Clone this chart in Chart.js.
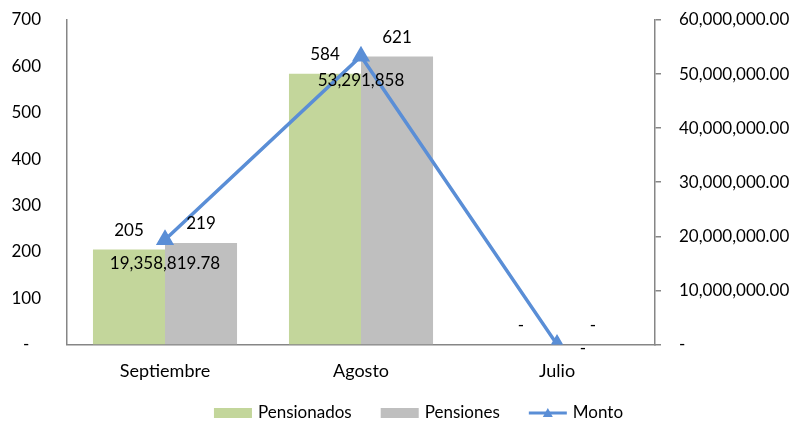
<!DOCTYPE html>
<html>
<head>
<meta charset="utf-8">
<script src="https://cdn.jsdelivr.net/npm/chart.js@4.4.1/dist/chart.umd.min.js"></script>
<style>
  html, body { margin: 0; padding: 0; background: #fff; }
  #wrap { width: 801px; height: 423px; }
</style>
</head>
<body>
<div id="wrap"><canvas id="chart" width="801" height="423"></canvas></div>
<script>
// datos del gráfico
const meses = ['Septiembre', 'Agosto', 'Julio'];
const pensionados = [205, 584, 0];
const pensiones = [219, 621, 0];
const monto = [19358819.78, 53291858, 0];
const montoEtiquetas = ['19,358,819.78', '53,291,858', '-'];

const gris = '#868686';
const azul = '#5A8ED6';
const verde = '#C3D69B';
const grisBarra = '#BFBFBF';
const fuente = 'Lato';

const fmtNum = v => v === 0 ? '-' : v.toLocaleString('en-US');

// etiquetas de datos
const etiquetas = {
    id: 'etiquetas',
    afterDatasetsDraw(chart) {
        const ctx = chart.ctx;
        ctx.save();
        ctx.font = '17px ' + fuente;
        ctx.fillStyle = '#000';
        ctx.textAlign = 'center';
        ctx.textBaseline = 'middle';
        chart.data.datasets.forEach((ds, i) => {
            const meta = chart.getDatasetMeta(i);
            meta.data.forEach((el, j) => {
                if (ds.type === 'line') {
                    ctx.fillText(montoEtiquetas[j], el.x + (j === 2 ? 26 : 0), el.y + (j === 2 ? 4 : 24));
                } else {
                    ctx.fillText(fmtNum(ds.data[j]), el.x, el.y - 19);
                }
            });
        });
        ctx.restore();
    }
};

// leyenda dibujada a mano (para controlar separaciones)
const leyenda = {
    id: 'leyenda',
    afterDraw(chart) {
        const ctx = chart.ctx;
        const y = chart.height - 10;
        ctx.save();
        ctx.font = '17px ' + fuente;
        ctx.textBaseline = 'middle';
        ctx.textAlign = 'left';
        const ds = chart.data.datasets;
        const anchos = ds.map(d => 38 + 6 + ctx.measureText(d.label).width);
        const total = anchos.reduce((a, b) => a + b, 0) + 29 * (ds.length - 1);
        let x = chart.width / 2 + 18 - total / 2;
        ds.forEach((d, i) => {
            if (d.type === 'line') {
                ctx.strokeStyle = d.borderColor; ctx.lineWidth = 3;
                ctx.beginPath(); ctx.moveTo(x, y); ctx.lineTo(x + 38, y); ctx.stroke();
                ctx.fillStyle = d.borderColor;
                ctx.beginPath(); ctx.moveTo(x + 19, y - 5); ctx.lineTo(x + 24, y + 4); ctx.lineTo(x + 14, y + 4); ctx.closePath(); ctx.fill();
            } else {
                ctx.fillStyle = d.backgroundColor;
                ctx.fillRect(x, y - 5, 38, 10);
            }
            ctx.fillStyle = '#000';
            ctx.fillText(d.label, x + 44, y);
            x += anchos[i] + 29;
        });
        ctx.restore();
    }
};

// ancho fijo del eje y sin relleno extra arriba/abajo
const fijarEje = ancho => s => { s.width = ancho; s.paddingTop = 0; s.paddingBottom = 0; };

new Chart(document.getElementById('chart'), {
    type: 'bar',
    data: {
        labels: meses,
        datasets: [
            { label: 'Pensionados', data: pensionados, backgroundColor: verde, yAxisID: 'y', order: 1 },
            { label: 'Pensiones', data: pensiones, backgroundColor: grisBarra, yAxisID: 'y', order: 1 },
            {
                type: 'line', label: 'Monto', data: monto, yAxisID: 'y1', order: 0,
                borderColor: azul, backgroundColor: azul, borderWidth: 3.5,
                pointStyle: 'triangle', pointRadius: 7, pointBackgroundColor: azul, pointBorderColor: azul,
                tension: 0
            }
        ]
    },
    options: {
        responsive: false,
        animation: false,
        layout: { autoPadding: false, padding: { top: 20, left: 8, right: 10, bottom: 25 } },
        datasets: { bar: { categoryPercentage: 0.735, barPercentage: 1 } },
        plugins: {
            tooltip: { enabled: false },
            legend: { display: false }
        },
        scales: {
            x: {
                grid: { display: false, tickLength: 0 },
                border: { display: true, color: gris, width: 1.5 },
                ticks: { font: { family: fuente, size: 18 }, color: '#000', padding: 16 }
            },
            y: {
                position: 'left',
                min: 0, max: 700,
                ticks: { stepSize: 100, font: { family: fuente, size: 17 }, color: '#000', padding: 18, crossAlign: 'center', callback: v => v === 0 ? '-' : v },
                grid: { display: false },
                border: { display: true, color: gris, width: 1.5 },
                afterFit: fijarEje(59)
            },
            y1: {
                position: 'right',
                min: 0, max: 60000000,
                ticks: {
                    stepSize: 10000000, font: { family: fuente, size: 17 }, color: '#000', padding: 18,
                    callback: v => v === 0 ? '-' : v.toLocaleString('en-US', { minimumFractionDigits: 2 })
                },
                grid: { drawOnChartArea: false, drawTicks: true, tickLength: 6, color: gris, lineWidth: 1.5 },
                border: { display: true, color: gris, width: 1.5 },
                afterFit: fijarEje(136)
            }
        }
    },
    plugins: [etiquetas, leyenda]
});
</script>
</body>
</html>
